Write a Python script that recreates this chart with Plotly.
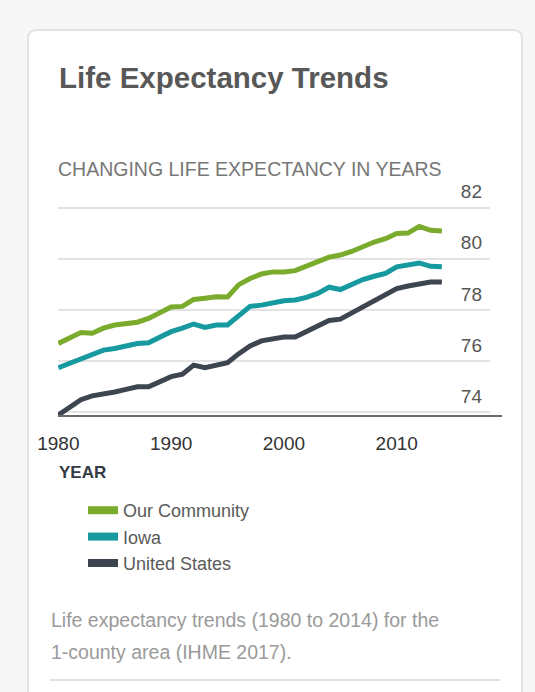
import plotly.graph_objects as go

years = list(range(1980, 2015))
community = [76.7, 76.9, 77.13, 77.1, 77.3, 77.42, 77.5, 77.53, 77.68, 77.88,
             78.13, 78.15, 78.42, 78.47, 78.53, 78.52, 79.0, 79.24, 79.42, 79.5,
             79.5, 79.55, 79.7, 79.9, 80.08, 80.16, 80.3, 80.5, 80.67, 80.8,
             81.0, 81.02, 81.28, 81.13, 81.1]
iowa = [75.75, 75.92, 76.12, 76.25, 76.44, 76.5, 76.6, 76.7, 76.73, 76.94,
        77.16, 77.3, 77.46, 77.33, 77.42, 77.42, 77.8, 78.15, 78.2, 78.29,
        78.37, 78.4, 78.5, 78.66, 78.9, 78.81, 79.02, 79.2, 79.33, 79.44,
        79.7, 79.76, 79.85, 79.72, 79.7]
us = [73.9, 74.2, 74.5, 74.65, 74.75, 74.8, 74.9, 75.0, 75.0, 75.2,
      75.4, 75.5, 75.85, 75.75, 75.85, 75.95, 76.3, 76.6, 76.8, 76.9,
      76.95, 76.95, 77.15, 77.35, 77.6, 77.65, 77.9, 78.15, 78.4, 78.6,
      78.85, 78.95, 79.05, 79.1, 79.1]
series_names = ["Our Community", "Iowa", "United States"]
series_values = [community, iowa, us]
series_colors = ["#7aab2c", "#16999f", "#3d4550"]
x_ticks = [1980, 1990, 2000, 2010]
y_ticks = [74, 76, 78, 80, 82]

W, H = 535, 692
L, R, T, B = 58, 45, 165, 276
PW, PH = W - L - R, H - T - B

def px(x):
    return (x - L) / PW

def py(y):
    return (H - B - y) / PH

fig = go.Figure()
for name, vals, col in zip(series_names, series_values, series_colors):
    fig.add_trace(go.Scatter(x=years, y=vals, name=name, mode="lines",
                             showlegend=False, legendgroup=name,
                             line=dict(color=col, width=5)))
# legend entries (thicker key lines, as in the reference)
for name, col in zip(series_names, series_colors):
    fig.add_trace(go.Scatter(x=[None], y=[None], name=name, mode="lines",
                             legendgroup=name, showlegend=True,
                             line=dict(color=col, width=8)))

# card with rounded corners
cx0, cx1, cy0, cy1, r = 28, 522, 30, 720, 9
path = (f"M{px(cx0)},{py(cy0 + r)} "
        f"Q{px(cx0)},{py(cy0)} {px(cx0 + r)},{py(cy0)} "
        f"L{px(cx1 - r)},{py(cy0)} "
        f"Q{px(cx1)},{py(cy0)} {px(cx1)},{py(cy0 + r)} "
        f"L{px(cx1)},{py(cy1)} L{px(cx0)},{py(cy1)} Z")
shapes = [
    dict(type="path", xref="paper", yref="paper", path=path, layer="below",
         fillcolor="white", line=dict(color="#e2e2e2", width=2)),
    dict(type="line", xref="paper", yref="paper", x0=0, x1=px(502), y0=0, y1=0,
         line=dict(color="#6b6b6b", width=2)),
    dict(type="line", xref="paper", yref="paper", x0=px(50), x1=px(500),
         y0=py(680), y1=py(680), line=dict(color="#e0e0e0", width=2)),
]

font = "Liberation Sans, Arial, sans-serif"
annotations = [
    dict(text="<b>Life Expectancy Trends</b>", x=px(57), y=py(77),
         font=dict(size=29.5, color="#585858", family=font)),
    dict(text="CHANGING LIFE EXPECTANCY IN YEARS", x=px(56), y=py(169),
         font=dict(size=19.5, color="#777777", family=font)),
    dict(text="<b>YEAR</b>", x=px(57), y=py(472),
         font=dict(size=17, color="#333b45", family=font)),
    dict(text="Life expectancy trends (1980 to 2014) for the", x=px(49), y=py(620),
         font=dict(size=19.5, color="#9a9a9a", family=font)),
    dict(text="1-county area (IHME 2017).", x=px(49), y=py(652),
         font=dict(size=19.5, color="#9a9a9a", family=font)),
]
for a in annotations:
    a.update(xref="paper", yref="paper", xanchor="left", yanchor="middle",
             showarrow=False)

fig.update_layout(
    width=W, height=H, autosize=False,
    margin=dict(l=L, r=R, t=T, b=B, pad=0),
    paper_bgcolor="#f7f7f7", plot_bgcolor="rgba(0,0,0,0)",
    shapes=shapes, annotations=annotations,
    showlegend=True,
    legend=dict(x=px(83), y=py(492), xanchor="left", yanchor="top",
                font=dict(size=18, color="#5a5a5a", family=font),
                bgcolor="rgba(0,0,0,0)", itemwidth=30, tracegroupgap=0,
                groupclick="togglegroup"),
    xaxis=dict(range=[1979.97, 1979.97 + PW / 11.28], tickvals=x_ticks,
               showgrid=False, zeroline=False, showline=False, ticks="",
               tickfont=dict(size=19, color="#333", family=font),
               ticklabelstandoff=14, fixedrange=True),
    yaxis=dict(range=[73.86, 73.86 + PH / 25.55], tickvals=y_ticks, side="right",
               ticklabelposition="inside top",
               showgrid=True, gridcolor="#e3e3e3", gridwidth=2,
               zeroline=False, showline=False, ticks="",
               tickfont=dict(size=19, color="#555", family=font),
               ticklabelstandoff=5, ticklabelshift=-3, fixedrange=True),
)

fig.write_html("out.html", config={"displayModeBar": False},
               post_script="document.body.style.margin='0';"
                           "document.body.style.background='#f7f7f7';")
